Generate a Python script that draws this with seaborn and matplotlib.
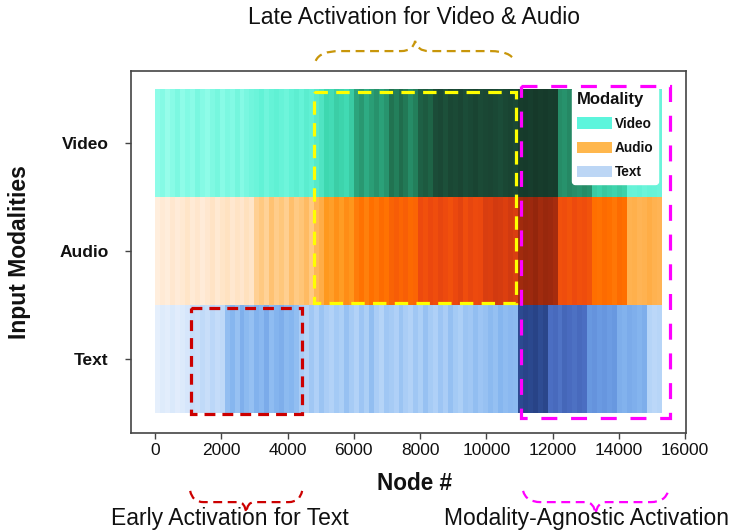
import matplotlib
matplotlib.use('Agg')
import matplotlib.pyplot as plt
import matplotlib.transforms as mtransforms
from matplotlib.colors import LinearSegmentedColormap
from matplotlib.patches import Rectangle, Patch, PathPatch
from matplotlib.path import Path
import seaborn as sns
import numpy as np
import pandas as pd

# activation intensity per node bin (150 nodes per bin, 0..15300)
BIN = 150
modalities = ["Video", "Audio", "Text"]

video = [0.12, 0.15, 0.10, 0.14, 0.18, 0.12, 0.16, 0.13, 0.19, 0.15, 0.12, 0.17, 0.20, 0.14, 0.18, 0.16, 0.21, 0.15, 0.19, 0.22,
         0.24, 0.27, 0.22, 0.26, 0.28, 0.25, 0.23, 0.27, 0.29, 0.26, 0.30, 0.28,
         0.32, 0.35,
         0.42, 0.40, 0.45, 0.43, 0.41, 0.46,
         0.58, 0.62, 0.56, 0.60, 0.64, 0.59, 0.63,
         0.74, 0.70, 0.76, 0.72,
         0.66, 0.70,
         0.80, 0.82, 0.79,
         0.86, 0.88, 0.85, 0.89, 0.87, 0.90, 0.86, 0.88, 0.91, 0.87, 0.89, 0.90, 0.88, 0.86, 0.89, 0.91, 0.88,
         0.96, 0.97, 0.95, 0.98, 0.96, 0.97, 0.95, 0.96,
         0.66, 0.64, 0.67, 0.65, 0.63, 0.66, 0.64,
         0.46, 0.44, 0.47, 0.45, 0.43, 0.46, 0.44,
         0.26, 0.25, 0.27, 0.24, 0.26, 0.25, 0.24]

audio = [0.04, 0.07, 0.05, 0.09, 0.06, 0.08, 0.11, 0.07, 0.10, 0.06, 0.09, 0.12, 0.08, 0.11, 0.13, 0.09, 0.12, 0.10, 0.14, 0.11,
         0.25, 0.30, 0.24, 0.33, 0.27, 0.31, 0.26, 0.34, 0.29, 0.32, 0.36, 0.30,
         0.38, 0.42,
         0.50, 0.48, 0.52, 0.49, 0.53, 0.51,
         0.57, 0.59, 0.56, 0.60, 0.58, 0.61, 0.59,
         0.64, 0.66, 0.63, 0.65,
         0.62, 0.63,
         0.72, 0.70, 0.73, 0.71, 0.74, 0.72, 0.70, 0.73, 0.75, 0.71, 0.74, 0.72, 0.73,
         0.78, 0.77, 0.80, 0.79, 0.77, 0.80, 0.78,
         0.92, 0.94, 0.93, 0.95, 0.92, 0.94, 0.93, 0.91,
         0.70, 0.71, 0.69, 0.72, 0.70, 0.71, 0.69,
         0.60, 0.59, 0.61, 0.60, 0.58, 0.61, 0.60,
         0.40, 0.41, 0.39, 0.40, 0.42, 0.40, 0.39]

text = [0.05, 0.08, 0.06, 0.10, 0.07, 0.09, 0.12,
        0.20, 0.18, 0.22, 0.19, 0.24, 0.21, 0.23,
        0.38, 0.42, 0.36, 0.45, 0.40, 0.37, 0.44, 0.41, 0.47, 0.39, 0.43, 0.46, 0.40,
        0.42, 0.38,
        0.30, 0.26, 0.33, 0.28, 0.35, 0.30, 0.27, 0.32, 0.29, 0.36,
        0.31, 0.27, 0.34, 0.29, 0.38, 0.30, 0.26, 0.33, 0.31, 0.28,
        0.35, 0.30, 0.27, 0.33, 0.29, 0.36, 0.31, 0.28, 0.34, 0.30,
        0.37, 0.32, 0.29, 0.35, 0.33, 0.38, 0.34, 0.36, 0.40, 0.37,
        0.42, 0.39, 0.41, 0.40,
        0.90, 0.93, 0.91, 0.94, 0.89, 0.92,
        0.74, 0.76, 0.72, 0.77, 0.75, 0.73, 0.76, 0.74,
        0.56, 0.58, 0.55, 0.57, 0.54, 0.56,
        0.46, 0.44, 0.47, 0.45, 0.43, 0.46,
        0.26, 0.24, 0.25]

xticks = [0, 2000, 4000, 6000, 8000, 10000, 12000, 14000, 16000]

# highlighted regions: (node start, node end, row start, row end)
late_box = (4800, 10900, 0.03, 1.98)
early_box = (1090, 4440, 2.03, 3.01)
agnostic_box = (11050, 15560, -0.03, 3.05)

cmaps = {
    "Video": LinearSegmentedColormap.from_list("video", [(0, "#c0fff4"), (0.12, "#8dfce8"), (0.27, "#62f2d6"),
                                                          (0.42, "#3ed8b0"), (0.6, "#2a9e76"), (0.75, "#20704f"),
                                                          (0.87, "#1b4a36"), (1, "#153628")]),
    "Audio": LinearSegmentedColormap.from_list("audio", [(0, "#fff3e8"), (0.1, "#ffe6cc"), (0.3, "#ffc980"),
                                                          (0.5, "#ff9a1f"), (0.6, "#ff6f00"), (0.72, "#ee4a0e"),
                                                          (0.8, "#d23a10"), (0.93, "#9e2a0e"), (1, "#801f08")]),
    "Text": LinearSegmentedColormap.from_list("text", [(0, "#eef4fd"), (0.2, "#c6ddf9"), (0.3, "#a9cdf6"),
                                                        (0.42, "#86b6ef"), (0.55, "#6a9ae2"), (0.75, "#4a6cc0"),
                                                        (0.9, "#2c4a90"), (1, "#22397a")]),
}
legend_colors = {"Video": "#5cf5dc", "Audio": "#ffb74d", "Text": "#bcd6f5"}

sns.set_theme(style="white")
plt.rcParams['font.family'] = ['Liberation Sans', 'DejaVu Sans']
plt.rcParams['text.color'] = '#111'

fig = plt.figure(figsize=(7.3, 5.31), dpi=100)
ax = fig.add_axes([0.1795, 0.1846, 0.7603, 0.6817])

df = pd.DataFrame([video, audio, text], index=modalities)
for i, m in enumerate(modalities):
    mask = np.ones(df.shape, dtype=bool)
    mask[i, :] = False
    sns.heatmap(df, mask=mask, cmap=cmaps[m], vmin=0, vmax=1, cbar=False, ax=ax,
                xticklabels=False, yticklabels=False, linewidths=0)

# axes, ticks, frame
ax.set_xlim(-725 / BIN, 16030 / BIN)
ax.set_ylim(3.185, -0.167)
ax.set_xticks([t / BIN for t in xticks])
ax.set_xticklabels([str(t) for t in xticks], fontsize=12.5, rotation=0)
ax.set_yticks([0.5, 1.5, 2.5])
ax.set_yticklabels(modalities, fontsize=12.5, fontweight="bold", rotation=0)
ax.tick_params(axis="x", bottom=True, length=4, width=1, color="#444", pad=3, labelcolor="#111")
ax.tick_params(axis="y", left=True, length=4, width=1, color="#444", pad=12, labelcolor="#111")
ax.set_xlabel("")
ax.set_ylabel("")
for s in ax.spines.values():
    s.set_visible(True)
    s.set_color("#444")
    s.set_linewidth(1.2)

# dashed boxes
def dashed_box(box, color, lw, dashes, z=4):
    x0, x1, y0, y1 = box
    ax.add_patch(Rectangle((x0 / BIN, y0), (x1 - x0) / BIN, y1 - y0, fill=False, edgecolor=color,
                           linewidth=lw, linestyle=(0, dashes), zorder=z, clip_on=False))

dashed_box(late_box, "#ffff00", 2.3, (4.2, 2.6))
dashed_box(early_box, "#cc0000", 2.3, (3.4, 2.2))
dashed_box(agnostic_box, "#ff00ff", 2.3, (5.0, 4.3), z=7)

# legend
handles = [Patch(facecolor=legend_colors[m], edgecolor="none", label=m) for m in modalities]
leg = ax.legend(handles=handles, title="Modality", loc="upper right", bbox_to_anchor=(0.962, 0.975),
                prop={"weight": "bold", "size": 9.8}, title_fontproperties={"weight": "bold", "size": 12},
                frameon=True, facecolor="white", edgecolor="white", framealpha=1, fancybox=True,
                handlelength=2.6, handleheight=0.9, labelspacing=0.75, borderpad=0.35, handletextpad=0.2,
                alignment="left", labelcolor="#111")
leg.set_zorder(5)

# curly braces (x in nodes, y in axes fraction)
trans = mtransforms.blended_transform_factory(ax.transData, ax.transAxes)

def brace(n0, n1, y_end, y_mid, y_tip, color):
    x0, x1 = n0 / BIN, n1 / BIN
    xm = (x0 + x1) / 2
    r = 0.12 * (x1 - x0)
    t = 0.07 * (x1 - x0)
    verts = [(x0, y_end), (x0 + 0.02 * (x1 - x0), y_mid), (x0 + r, y_mid), (xm - t, y_mid),
             (xm - 0.01 * (x1 - x0), y_mid), (xm, y_tip),
             (xm + 0.01 * (x1 - x0), y_mid), (xm + t, y_mid), (x1 - r, y_mid),
             (x1 - 0.02 * (x1 - x0), y_mid), (x1, y_end)]
    codes = [Path.MOVETO, Path.CURVE3, Path.CURVE3, Path.LINETO, Path.CURVE3, Path.CURVE3,
             Path.CURVE3, Path.CURVE3, Path.LINETO, Path.CURVE3, Path.CURVE3]
    ax.add_patch(PathPatch(Path(verts, codes), fill=False, edgecolor=color, linewidth=1.6,
                           linestyle=(0, (4, 2.5)), transform=trans, clip_on=False))

brace(4850, 10850, 1.028, 1.055, 1.083, "#c8960a")
brace(1060, 4440, -0.160, -0.191, -0.221, "#cc0000")
brace(11110, 15490, -0.160, -0.191, -0.224, "#ff00ff")

# labels and annotations
fig.text(415 / 730, 1 - 483 / 531, "Node #", ha="center", va="center", fontsize=16.3, fontweight="bold")
fig.text(20 / 730, 1 - 252 / 531, "Input Modalities", ha="center", va="center", rotation=90,
         fontsize=16.5, fontweight="bold")
fig.text(414 / 730, 1 - 17 / 531, "Late Activation for Video & Audio", ha="center", va="center", fontsize=16.5)
fig.text(230 / 730, 1 - 519 / 531, "Early Activation for Text", ha="center", va="center", fontsize=16.5)
fig.text(586 / 730, 1 - 519 / 531, "Modality-Agnostic Activation", ha="center", va="center", fontsize=16.5)

fig.savefig("out.png", dpi=100)
plt.close(fig)
